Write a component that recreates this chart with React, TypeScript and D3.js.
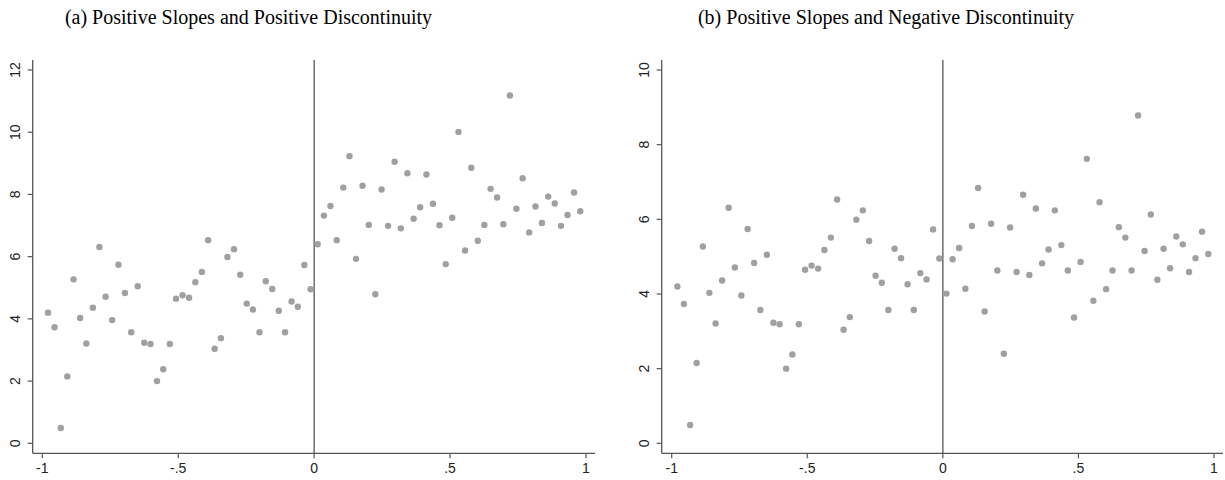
import React from "react";
import * as d3 from "d3";

const xLeft = [-0.979, -0.955, -0.932, -0.908, -0.885, -0.861, -0.838, -0.814, -0.790, -0.767, -0.743, -0.720, -0.696, -0.673, -0.649, -0.625, -0.602, -0.578, -0.555, -0.531, -0.508, -0.484, -0.460, -0.437, -0.413, -0.390, -0.366, -0.343, -0.319, -0.295, -0.272, -0.248, -0.225, -0.201, -0.178, -0.154, -0.130, -0.107, -0.083, -0.060, -0.036, -0.013];
const xRight = [0.013, 0.036, 0.060, 0.083, 0.107, 0.130, 0.154, 0.178, 0.201, 0.225, 0.248, 0.272, 0.296, 0.319, 0.343, 0.366, 0.390, 0.413, 0.437, 0.461, 0.484, 0.508, 0.531, 0.555, 0.578, 0.602, 0.626, 0.649, 0.673, 0.696, 0.720, 0.744, 0.767, 0.791, 0.814, 0.838, 0.861, 0.885, 0.908, 0.932, 0.956, 0.979];

const leftValues = [4.20, 3.73, 0.49, 2.15, 5.27, 4.03, 3.21, 4.36, 6.31, 4.71, 3.96, 5.74, 4.83, 3.57, 5.05, 3.23, 3.19, 2.00, 2.38, 3.19, 4.65, 4.76, 4.68, 5.18, 5.51, 6.53, 3.04, 3.38, 5.99, 6.24, 5.42, 4.49, 4.30, 3.57, 5.21, 4.96, 4.26, 3.57, 4.56, 4.39, 5.73, 4.95];
const rightValuesA = [6.40, 7.32, 7.63, 6.53, 8.22, 9.23, 5.93, 8.28, 7.02, 4.79, 8.16, 6.99, 9.05, 6.91, 8.68, 7.22, 7.59, 8.64, 7.70, 7.01, 5.76, 7.25, 10.01, 6.20, 8.86, 6.51, 7.02, 8.18, 7.90, 7.04, 11.18, 7.54, 8.52, 6.78, 7.61, 7.08, 7.93, 7.71, 6.99, 7.34, 8.06, 7.46];
const rightValuesB = [4.01, 4.93, 5.23, 4.14, 5.82, 6.84, 3.53, 5.88, 4.63, 2.40, 5.78, 4.59, 6.66, 4.51, 6.29, 4.82, 5.19, 6.24, 5.31, 4.63, 3.37, 4.86, 7.62, 3.82, 6.46, 4.13, 4.63, 5.79, 5.51, 4.63, 8.78, 5.15, 6.13, 4.38, 5.21, 4.69, 5.54, 5.33, 4.59, 4.96, 5.67, 5.07];

const xTicks = [-1, -0.5, 0, 0.5, 1];
const xTickLabels = ["-1", "-.5", "0", ".5", "1"];
const yTicksA = [0, 2, 4, 6, 8, 10, 12];
const yTicksB = [0, 2, 4, 6, 8, 10];

const titleA = "(a) Positive Slopes and Positive Discontinuity";
const titleB = "(b) Positive Slopes and Negative Discontinuity";

type PanelProps = {
  title: string;
  titleX: number;
  axisLeft: number;
  axisRight: number;
  xRange: [number, number];
  yMax: number;
  yTicks: number[];
  rightValues: number[];
};

const AXIS_COLOR = "#555";
const DOT_COLOR = "#a0a0a0";
const axisTop = 60;
const axisBottom = 453.3;

function Panel({ title, titleX, axisLeft, axisRight, xRange, yMax, yTicks, rightValues }: PanelProps) {
  const x = d3.scaleLinear().domain([-1, 1]).range(xRange);
  const y = d3.scaleLinear().domain([0, yMax]).range([443.3, 70]);
  const pts = [
    ...xLeft.map((v, i) => [v, leftValues[i]]),
    ...xRight.map((v, i) => [v, rightValues[i]]),
  ];
  return (
    <g>
      <text x={titleX} y={23.5} textAnchor="middle" fontFamily="'Liberation Serif', 'Times New Roman', serif" fontSize={20} fill="#000">
        {title}
      </text>
      <line x1={axisLeft} x2={axisLeft} y1={axisTop} y2={axisBottom} stroke={AXIS_COLOR} strokeWidth={1.3} />
      {yTicks.map((t) => (
        <g key={t}>
          <line x1={axisLeft - 5} x2={axisLeft} y1={y(t)} y2={y(t)} stroke={AXIS_COLOR} strokeWidth={1.2} />
          <text
            transform={`translate(${axisLeft - 13},${y(t)}) rotate(-90)`}
            textAnchor="middle"
            fontFamily="'Liberation Sans', Arial, sans-serif"
            fontSize={14}
            fill="#222"
          >
            {t}
          </text>
        </g>
      ))}
      <line x1={axisLeft} x2={axisRight} y1={axisBottom} y2={axisBottom} stroke={AXIS_COLOR} strokeWidth={1.3} />
      {xTicks.map((t, i) => (
        <g key={t}>
          <line x1={x(t)} x2={x(t)} y1={axisBottom} y2={axisBottom + 5} stroke={AXIS_COLOR} strokeWidth={1.2} />
          <text x={x(t)} y={473.3} textAnchor="middle" fontFamily="'Liberation Sans', Arial, sans-serif" fontSize={14} fill="#222">
            {xTickLabels[i]}
          </text>
        </g>
      ))}
      <line x1={x(0)} x2={x(0)} y1={axisTop} y2={axisBottom} stroke={AXIS_COLOR} strokeWidth={1.3} />
      {pts.map((p, i) => (
        <circle key={i} cx={x(p[0])} cy={y(p[1])} r={3.2} fill={DOT_COLOR} />
      ))}
    </g>
  );
}

export default function App() {
  return (
    <svg width={1225} height={480} style={{ position: "absolute", left: 0, top: 0, background: "#fff" }}>
      <rect width={1225} height={480} fill="#fff" />
      <Panel title={titleA} titleX={248.5} axisLeft={32.7} axisRight={595} xRange={[42.3, 586]} yMax={12} yTicks={yTicksA} rightValues={rightValuesA} />
      <Panel title={titleB} titleX={886} axisLeft={661.7} axisRight={1223} xRange={[671.7, 1214]} yMax={10} yTicks={yTicksB} rightValues={rightValuesB} />
    </svg>
  );
}
